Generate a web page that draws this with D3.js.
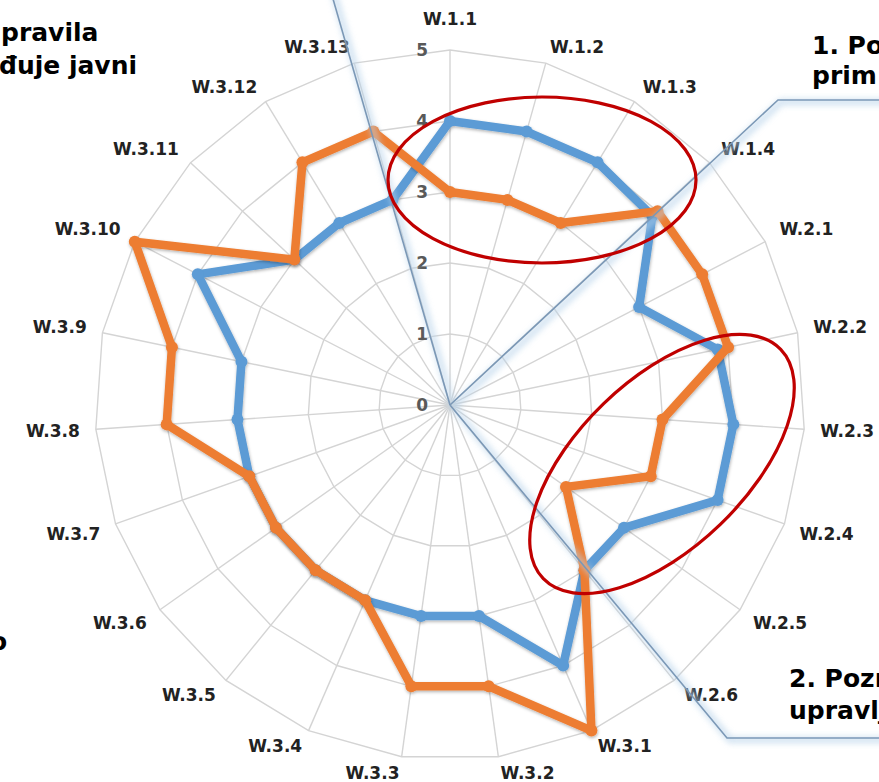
<!DOCTYPE html>
<html>
<head>
<meta charset="utf-8">
<script src="https://cdn.jsdelivr.net/npm/d3@7"></script>
<style>
  html, body { margin: 0; padding: 0; background: #fff; overflow: hidden; }
  svg { display: block; }
  .axis-label { font-family: "DejaVu Sans", Verdana, sans-serif; font-weight: bold; font-size: 17px; fill: #222; }
  .tick-label { font-family: "DejaVu Sans", Verdana, sans-serif; font-weight: bold; font-size: 17px; fill: #595959; }
  .note { font-family: "DejaVu Sans", Verdana, sans-serif; font-weight: bold; font-size: 25px; fill: #000; }
</style>
</head>
<body>
<div id="chart"></div>
<script>
const categories = [
  'W.1.1', 'W.1.2', 'W.1.3', 'W.1.4',
  'W.2.1', 'W.2.2', 'W.2.3', 'W.2.4', 'W.2.5', 'W.2.6',
  'W.3.1', 'W.3.2', 'W.3.3', 'W.3.4', 'W.3.5', 'W.3.6', 'W.3.7',
  'W.3.8', 'W.3.9', 'W.3.10', 'W.3.11', 'W.3.12', 'W.3.13'
];
const blueValues = [4, 4, 4, 3.9, 3, 3.85, 4, 4, 3, 3, 4, 3, 3, 3, 3, 3, 3, 3, 3, 4, 3, 3, 3];
const orangeValues = [3, 3, 3, 4, 4, 4, 3, 3, 2, 3, 5, 4, 4, 3, 3, 3, 3, 4, 4, 5, 3, 4, 4];
const ringTicks = [0, 1, 2, 3, 4, 5];

const width = 879, height = 782;
const cx = 450, cy = 405, outer = 355;

const svg = d3.select('#chart').append('svg')
  .attr('width', width)
  .attr('height', height);

const defs = svg.append('defs');
const shadow = defs.append('filter').attr('id', 'shadow')
  .attr('x', '-10%').attr('y', '-10%').attr('width', '120%').attr('height', '120%');
shadow.append('feDropShadow')
  .attr('dx', 0.5).attr('dy', 1.5).attr('stdDeviation', 1.6)
  .attr('flood-color', '#000').attr('flood-opacity', 0.3);
const glow = defs.append('filter').attr('id', 'glow')
  .attr('x', '-20%').attr('y', '-20%').attr('width', '140%').attr('height', '140%');
glow.append('feGaussianBlur').attr('stdDeviation', 3);

const r = d3.scaleLinear().domain([0, 5]).range([0, outer]);
const angle = d3.scaleLinear().domain([0, categories.length]).range([0, 2 * Math.PI]);

const g = svg.append('g').attr('transform', `translate(${cx},${cy})`);

// grid rings (polygons like Excel)
const ringPath = function (t) {
  return d3.lineRadial()
    .angle((d, i) => angle(i))
    .radius(r(t))
    .curve(d3.curveLinearClosed)(categories);
};
g.selectAll('.ring')
  .data(ringTicks.slice(1))
  .enter()
  .append('path')
  .attr('class', 'ring')
  .attr('d', ringPath)
  .attr('fill', 'none')
  .attr('stroke', '#d4d4d4')
  .attr('stroke-width', 1.4);

// spokes
g.selectAll('.spoke')
  .data(categories)
  .enter()
  .append('line')
  .attr('class', 'spoke')
  .attr('x1', 0).attr('y1', 0)
  .attr('x2', (d, i) => r(5) * Math.sin(angle(i)))
  .attr('y2', (d, i) => -r(5) * Math.cos(angle(i)))
  .attr('stroke', '#d4d4d4')
  .attr('stroke-width', 1.4);

// tick labels along the first axis
g.selectAll('.tick-label')
  .data(ringTicks)
  .enter()
  .append('text')
  .attr('class', 'tick-label')
  .attr('x', -22)
  .attr('y', d => -r(d))
  .attr('text-anchor', 'end')
  .attr('dominant-baseline', 'central')
  .text(d => d);

// category labels, placed outside the outer ring the way Excel does it
const clamp = v => Math.max(-1, Math.min(1, v));
g.selectAll('.axis-label')
  .data(categories)
  .enter()
  .append('text')
  .attr('class', 'axis-label')
  .attr('text-anchor', 'middle')
  .attr('dominant-baseline', 'central')
  .text(d => d)
  .each(function (d, i) {
    const a = angle(i);
    const s = Math.sin(a), c = Math.cos(a);
    const w = this.getComputedTextLength();
    const h = 18;
    const px = r(5) * s, py = -r(5) * c;
    const dx = (w / 2) * clamp(s / 0.1) + 16 * s;
    const gapY = Math.abs(s) < 0.05 ? 22 : 7 * Math.abs(c);
    const dy = -(h / 2) * clamp(c / 0.4) - gapY * Math.sign(c);
    d3.select(this).attr('x', px + dx).attr('y', py + dy);
  });

// callout leader lines (annotation layer under the series)
const callouts = svg.append('g');
const leaderPaths = [
  [[cx, cy], [cx - 121, -15]],
  [[cx, cy], [778, 100], [900, 100]],
  [[cx, cy], [727, 738], [900, 738]]
];
const leader = d3.line();
callouts.selectAll('.leader-glow')
  .data(leaderPaths)
  .enter()
  .append('path')
  .attr('d', d => leader(d.map(p => [p[0] + 3, p[1] + 2])))
  .attr('fill', 'none')
  .attr('stroke', '#b8d3ea')
  .attr('stroke-width', 6)
  .attr('opacity', 0.7)
  .attr('filter', 'url(#glow)');
callouts.selectAll('.leader')
  .data(leaderPaths)
  .enter()
  .append('path')
  .attr('d', leader)
  .attr('fill', 'none')
  .attr('stroke', '#7b98b6')
  .attr('stroke-width', 1.6);

// series
const series = [
  {name: 'blue', values: blueValues, color: '#5b9bd5'},
  {name: 'orange', values: orangeValues, color: '#ed7d31'}
];
const radarLine = d3.lineRadial()
  .angle((d, i) => angle(i))
  .radius(d => r(d))
  .curve(d3.curveLinearClosed);

const seriesG = g.selectAll('.series')
  .data(series)
  .enter()
  .append('g')
  .attr('class', 'series')
  .attr('filter', 'url(#shadow)');

seriesG.append('path')
  .attr('d', d => radarLine(d.values))
  .attr('fill', 'none')
  .attr('stroke', d => d.color)
  .attr('stroke-width', 8.5)
  .attr('stroke-linejoin', 'round');

seriesG.each(function (sd) {
  d3.select(this).selectAll('circle')
    .data(sd.values)
    .enter()
    .append('circle')
    .attr('cx', (d, i) => r(d) * Math.sin(angle(i)))
    .attr('cy', (d, i) => -r(d) * Math.cos(angle(i)))
    .attr('r', 6)
    .attr('fill', sd.color);
});

// red highlight ellipses
svg.append('ellipse')
  .attr('cx', 542).attr('cy', 180)
  .attr('rx', 154).attr('ry', 83)
  .attr('fill', 'none')
  .attr('stroke', '#c00000')
  .attr('stroke-width', 3.2);
svg.append('ellipse')
  .attr('transform', 'translate(662,464) rotate(-44)')
  .attr('rx', 165).attr('ry', 84)
  .attr('fill', 'none')
  .attr('stroke', '#c00000')
  .attr('stroke-width', 3.2);

// cut-off slide text around the chart
const notes = [
  {text: 'pravila', x: 1, y: 41},
  {text: 'đuje javni', x: -1, y: 74},
  {text: '1. Po', x: 812, y: 54},
  {text: 'prim', x: 812, y: 84},
  {text: '2. Pozr', x: 789, y: 687},
  {text: 'upravlj', x: 789, y: 719},
  {text: 'o', x: -10, y: 650}
];
svg.selectAll('.note')
  .data(notes)
  .enter()
  .append('text')
  .attr('class', 'note')
  .attr('x', d => d.x)
  .attr('y', d => d.y)
  .text(d => d.text);
</script>
</body>
</html>
